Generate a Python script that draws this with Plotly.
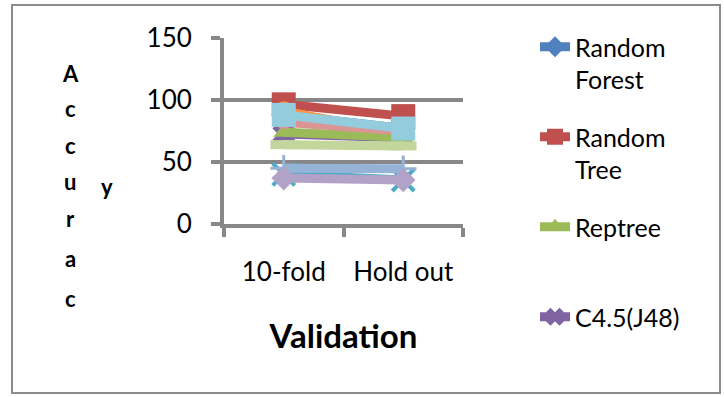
import plotly.graph_objects as go

# Categories (validation method) and accuracy values per classifier
validation = ["10-fold", "Hold out"]

random_forest = [88, 77]
random_tree = [96.5, 87]
reptree = [74, 70]
c45_j48 = [72.5, 69.5]
series_5 = [91, 73]
series_6 = [82, 75]
series_7 = [88, 77]
series_8 = [64, 63]
series_9 = [40, 35.5]
series_10 = [45, 44.5]
series_11 = [37, 35.5]

y_ticks = [0, 50, 100, 150]

FONT = "Lato, Carlito, 'Open Sans', sans-serif"
GRID = "#878787"

# plot-area geometry in pixels (used to place paper-referenced text)
PX_L, PX_R, PX_T, PX_B = 224, 463, 38, 224
W, H = 724, 397


def px_x(px):
    return (px - PX_L) / (PX_R - PX_L)


def px_y(py):
    return (PX_B - py) / (PX_B - PX_T)


# name, values, colour, symbol, size, marker line width, legend label, legend rank
series = [
    ("Random Forest", random_forest, "#4F81BD", "diamond", 19, 0, "Random<br>Forest", 1),
    ("Random Tree", random_tree, "#C0504D", "square", 24, 0, "Random<br>Tree", 2),
    ("Series 5", series_5, "#F79646", "circle", 20, 0, None, 5),
    ("C4.5(J48)", c45_j48, "#8064A2", "x", 20, 0, "C4.5(J48)", 4),
    ("Reptree", reptree, "#9BBB59", "triangle-up", 18, 0, "Reptree<br> ", 3),
    ("Series 6", series_6, "#D99694", "circle", 14, 0, None, 6),
    ("Series 7", series_7, "#93CDDD", "square", 24, 0, None, 7),
    ("Series 8", series_8, "#C3D69B", "line-ew", 19, 9, None, 8),
    ("Series 9", series_9, "#4BACC6", "x-thin", 22, 4, None, 9),
    ("Series 10", series_10, "#95B3D7", "cross-thin", 19, 3, None, 10),
    ("Series 11", series_11, "#B3A2C7", "diamond", 19, 0, None, 11),
]

fig = go.Figure()
for name, vals, color, sym, size, mlw, label, rank in series:
    fig.add_trace(go.Scatter(
        x=validation,
        y=vals,
        name=label if label else name,
        mode="lines+markers",
        line=dict(color=color, width=9),
        marker=dict(symbol=sym, size=size, color=color,
                    line=dict(color=color, width=mlw)),
        showlegend=label is not None,
        legendgroup=name,
        legendrank=rank,
        hoverinfo="x+y+name",
    ))

# stacked y-axis title letters, plus the wrapped final letter
letters = [("A", 70, 73), ("c", 70, 108), ("c", 70, 145), ("u", 70, 181),
           ("r", 70, 218), ("a", 70, 258), ("c", 70, 298), ("y", 107, 186)]
annotations = [
    dict(text=t, x=px_x(x), y=px_y(y), xref="paper", yref="paper",
         xanchor="center", yanchor="middle", showarrow=False,
         font=dict(family=FONT, size=22, color="black", weight="bold"))
    for t, x, y in letters
]

fig.update_layout(
    width=W, height=H,
    margin=dict(l=PX_L, r=W - PX_R, t=PX_T, b=H - PX_B, autoexpand=False),
    paper_bgcolor="white",
    plot_bgcolor="white",
    font=dict(family=FONT, size=25, color="black"),
    showlegend=True,
    legend=dict(
        x=535 / W, y=1 - 24 / H, xref="container", yref="container",
        xanchor="left", yanchor="top", maxheight=390,
        traceorder="grouped", tracegroupgap=22, valign="top",
        itemwidth=30, bgcolor="rgba(0,0,0,0)",
        font=dict(family=FONT, size=25, color="black"),
    ),
    annotations=annotations,
    shapes=[dict(type="rect", xref="paper", yref="paper",
                 x0=px_x(12), x1=px_x(720), y0=px_y(393), y1=px_y(5),
                 line=dict(color="#8C8C8C", width=2), layer="below")],
    hovermode="closest",
)

fig.update_xaxes(
    type="category", range=[-0.5, 1.5],
    showline=True, linecolor=GRID, linewidth=4,
    ticks="outside", tickson="boundaries", ticklen=9, tickwidth=4, tickcolor=GRID,
    showgrid=False, zeroline=False,
    tickfont=dict(family=FONT, size=26, color="black"),
    ticklabelstandoff=22,
    title=dict(text="Validation", standoff=40,
               font=dict(family=FONT, size=33, color="black", weight="bold")),
    automargin=False,
)
fig.update_yaxes(
    range=[0, 150], tickvals=y_ticks,
    showline=True, linecolor=GRID, linewidth=4,
    ticks="outside", ticklen=9, tickwidth=4, tickcolor=GRID,
    showgrid=True, gridcolor=GRID, gridwidth=4, zeroline=False,
    tickfont=dict(family=FONT, size=26, color="black"),
    ticklabelstandoff=14,
    automargin=False,
)

fig.write_html("out.html")
